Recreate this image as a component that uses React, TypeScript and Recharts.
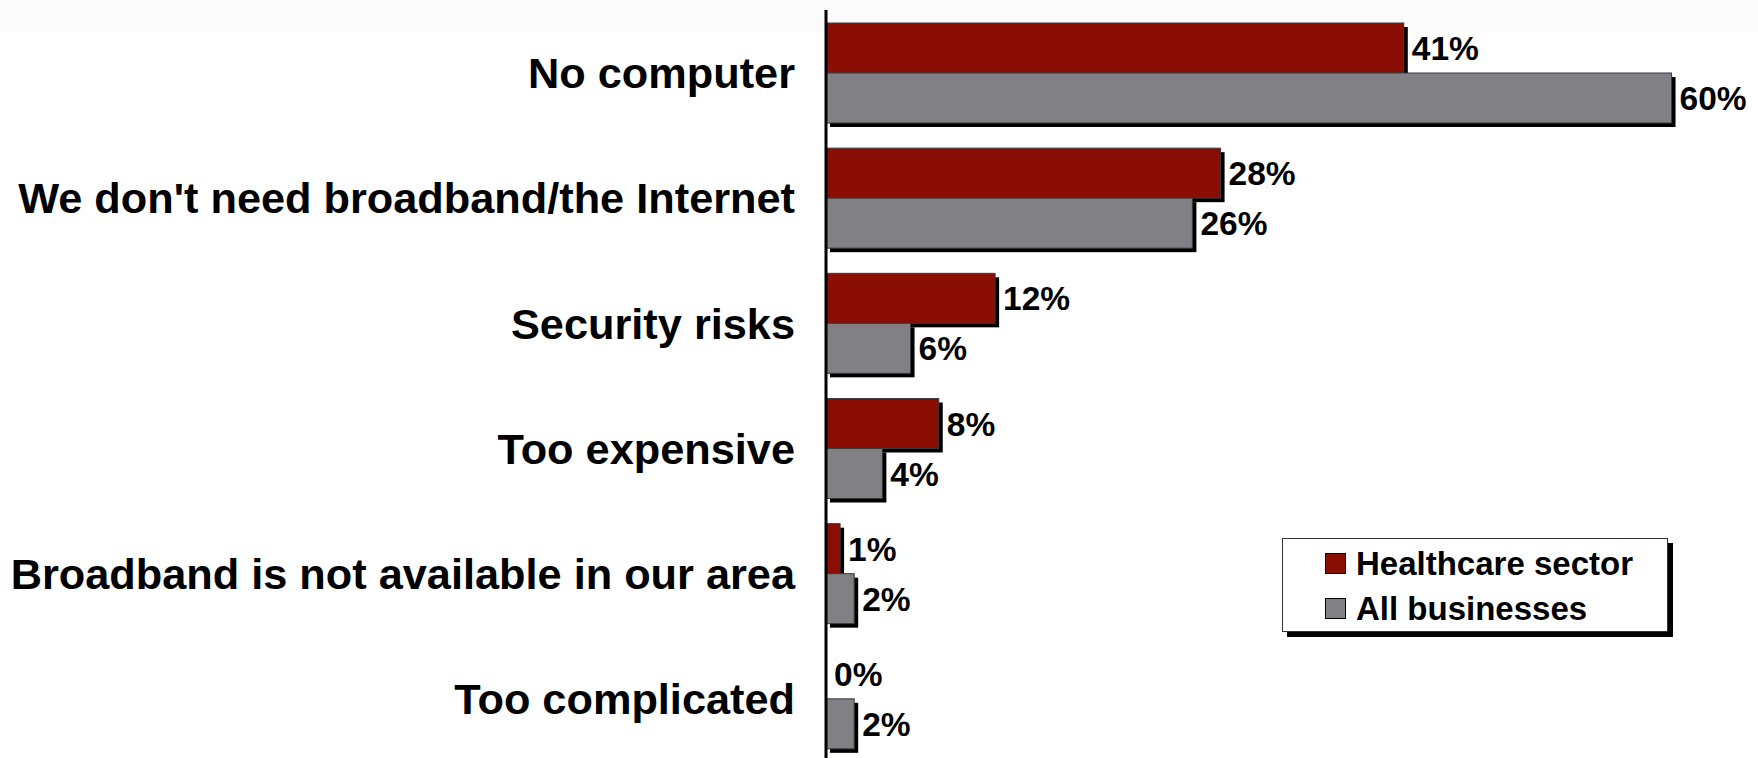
import React from 'react';
import { BarChart, Bar, XAxis, YAxis, Legend, LabelList } from 'recharts';

const categories = [
  'No computer',
  "We don't need broadband/the Internet",
  'Security risks',
  'Too expensive',
  'Broadband is not available in our area',
  'Too complicated',
];
const healthcare = [41, 28, 12, 8, 1, 0];
const allBusinesses = [60, 26, 6, 4, 2, 2];

const RED = '#8b0e04';
const GRAY = '#808085';
const FONT = '"Liberation Sans", Arial, sans-serif';

const data = categories.map((name, i) => ({
  name,
  healthcare: healthcare[i],
  all: allBusinesses[i],
}));

const ShadowBar = (props: any) => {
  const { x, y, width, height, fill } = props;
  if (!width || width <= 0) return null;
  return (
    <g>
      <rect x={x + 4} y={y + 4} width={width} height={height} fill="#000" />
      <rect x={x} y={y} width={width} height={height} fill={fill} stroke="#3a3a3a" strokeWidth={1} />
    </g>
  );
};

const ValueLabel = (props: any) => {
  const { x, y, width, height, value } = props;
  return (
    <text
      x={x + width + 8}
      y={y + height / 2}
      dy="0.36em"
      fontFamily={FONT}
      fontWeight="bold"
      fontSize={33.5}
      fill="#000"
    >
      {value}%
    </text>
  );
};

const CategoryTick = (props: any) => {
  const { x, y, payload } = props;
  return (
    <text
      x={x - 23}
      y={y}
      dy="0.36em"
      textAnchor="end"
      fontFamily={FONT}
      fontWeight="bold"
      fontSize={43.3}
      fill="#000"
    >
      {payload.value}
    </text>
  );
};

const legendItems = [
  { label: 'Healthcare sector', color: RED },
  { label: 'All businesses', color: GRAY },
];

const LegendBox = () => (
  <div
    style={{
      width: 386,
      height: 94,
      boxSizing: 'border-box',
      border: '1.5px solid #333',
      background: '#fff',
      boxShadow: '5px 5px 0 #000',
      paddingTop: 2,
      paddingLeft: 42,
      fontFamily: FONT,
      fontWeight: 'bold',
      fontSize: 33,
    }}
  >
    {legendItems.map((it) => (
      <div key={it.label} style={{ display: 'flex', alignItems: 'center', height: 45 }}>
        <span
          style={{
            display: 'inline-block',
            width: 19,
            height: 19,
            background: it.color,
            border: '1px solid #000',
            marginRight: 10,
          }}
        />
        <span>{it.label}</span>
      </div>
    ))}
  </div>
);

export default function App() {
  return (
    <div
      style={{
        position: 'absolute',
        left: 0,
        top: 0,
        width: 1758,
        height: 758,
        overflow: 'hidden',
        background: '#fff',
      }}
    >
      <div style={{ position: 'absolute', left: 0, top: 0, width: 1758, height: 32, background: '#fbfbfb' }} />
      <div style={{ position: 'absolute', left: 0, top: 0 }}>
        <BarChart
          width={1758}
          height={761}
          data={data}
          layout="vertical"
          margin={{ top: 10, right: 16, left: 0, bottom: 0 }}
          barGap={0}
          barSize={50}
        >
          <XAxis type="number" domain={[0, 65]} hide />
          <YAxis
            type="category"
            dataKey="name"
            width={826}
            axisLine={{ stroke: '#000', strokeWidth: 3 }}
            tickLine={false}
            tick={<CategoryTick />}
            interval={0}
          />
          <Legend
            layout="horizontal"
            align="center"
            verticalAlign="middle"
            wrapperStyle={{ left: 1282, top: 538, width: 392, height: 100 }}
            content={<LegendBox />}
          />
          <Bar dataKey="healthcare" name="Healthcare sector" fill={RED} shape={<ShadowBar />} isAnimationActive={false}>
            <LabelList dataKey="healthcare" content={<ValueLabel />} />
          </Bar>
          <Bar dataKey="all" name="All businesses" fill={GRAY} shape={<ShadowBar />} isAnimationActive={false}>
            <LabelList dataKey="all" content={<ValueLabel />} />
          </Bar>
        </BarChart>
      </div>
    </div>
  );
}
